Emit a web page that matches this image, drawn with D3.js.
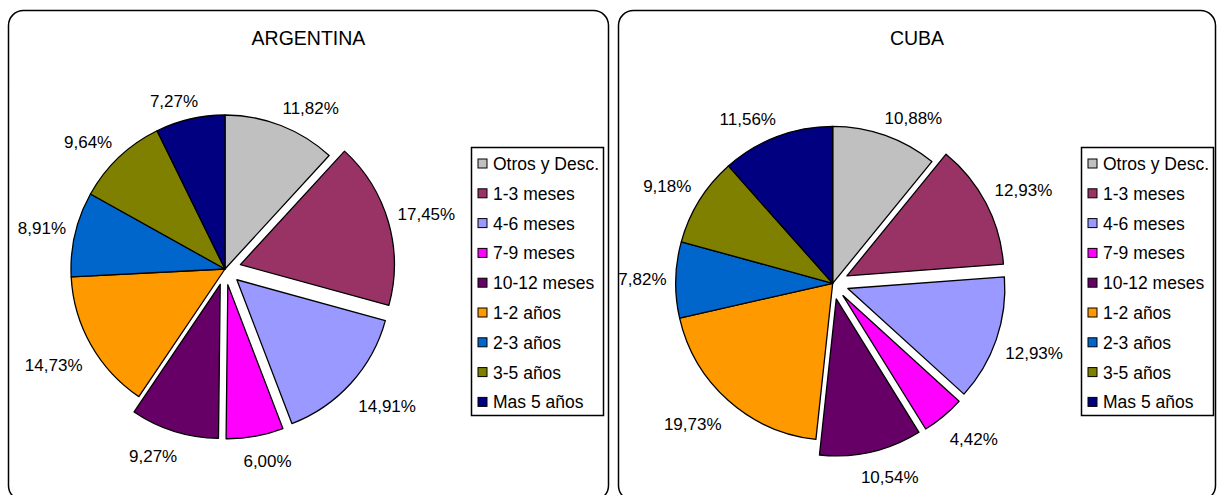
<!DOCTYPE html>
<html>
<head>
<meta charset="utf-8">
<script src="https://cdn.jsdelivr.net/npm/d3@7"></script>
<style>
  body { margin: 0; background: #fff; }
  text { font-family: Arial, "Liberation Sans", sans-serif; fill: #000; }
</style>
</head>
<body>
<div id="chart"></div>
<script>
const categories = [
  "Otros y Desc.", "1-3 meses", "4-6 meses", "7-9 meses", "10-12 meses",
  "1-2 años", "2-3 años", "3-5 años", "Mas 5 años",
];
const argentinaValues = [11.82, 17.45, 14.91, 6.0, 9.27, 14.73, 8.91, 9.64, 7.27];
const cubaValues = [10.88, 12.93, 12.93, 4.42, 10.54, 19.73, 7.82, 9.18, 11.56];
const explodedCategories = ["1-3 meses", "4-6 meses", "7-9 meses", "10-12 meses"];
const palette = [
  "#C0C0C0", "#993366", "#9999FF", "#FF00FF", "#660066",
  "#FF9900", "#0066CC", "#808000", "#000080",
];

const width = 1217,
  height = 495;

const svg = d3
  .select("#chart")
  .append("svg")
  .attr("width", width)
  .attr("height", height);

const color = d3.scaleOrdinal().domain(categories).range(palette);
const fmt = (v) => d3.format(".2f")(v).replace(".", ",") + "%";

const panels = [
  { title: "ARGENTINA", values: argentinaValues, x: 8.5, w: 600, cx: 225, cy: 269, r: 154, legendX: 471.5 },
  { title: "CUBA", values: cubaValues, x: 618.5, w: 597, cx: 832.7, cy: 283.3, r: 157, legendX: 1081.5 },
];

const explode = 16;

panels.forEach(function (p) {
  const g = svg.append("g");

  // rounded frame
  g.append("rect")
    .attr("x", p.x)
    .attr("y", 10.5)
    .attr("width", p.w)
    .attr("height", 490)
    .attr("rx", 15)
    .attr("fill", "#fff")
    .attr("stroke", "#000")
    .attr("stroke-width", 1.5);

  g.append("text")
    .attr("x", p.x + p.w / 2)
    .attr("y", 45)
    .attr("text-anchor", "middle")
    .attr("font-size", 19.5)
    .text(p.title);

  const data = categories.map((c, i) => ({ key: c, value: p.values[i] }));
  const pie = d3.pie().sort(null).value((d) => d.value);
  const arcs = pie(data);
  const arc = d3.arc().innerRadius(0).outerRadius(p.r);

  const offset = function (d) {
    const mid = (d.startAngle + d.endAngle) / 2;
    const e = explodedCategories.includes(d.data.key) ? explode : 0;
    return [e * Math.sin(mid), -e * Math.cos(mid)];
  };

  const pieG = g.append("g").attr("transform", "translate(" + p.cx + "," + p.cy + ")");

  pieG
    .selectAll(".slice")
    .data(arcs)
    .enter()
    .append("path")
    .attr("class", "slice")
    .attr("transform", (d) => "translate(" + offset(d) + ")")
    .attr("d", arc)
    .attr("fill", (d) => color(d.data.key))
    .attr("stroke", "#000")
    .attr("stroke-width", 1.3)
    .attr("stroke-linejoin", "round");

  // labels outside the slices
  const R = p.r + 8;
  const clamp = (v) => Math.max(-1, Math.min(1, v));
  pieG
    .selectAll(".lbl")
    .data(arcs)
    .enter()
    .append("text")
    .attr("class", "lbl")
    .attr("font-size", 17)
    .attr("text-anchor", "middle")
    .text((d) => fmt(d.data.value))
    .each(function (d) {
      const mid = (d.startAngle + d.endAngle) / 2;
      const ux = Math.sin(mid),
        uy = -Math.cos(mid);
      const o = offset(d);
      const hw = this.getComputedTextLength() / 2;
      const lx = o[0] + R * ux + hw * 1.05 * clamp(ux * 2.5);
      const ly = o[1] + R * uy + (uy < 0 ? 10 : 17) * clamp(uy * 2);
      d3.select(this).attr("x", lx).attr("y", ly + 6);
    });

  // legend
  const lg = g.append("g").attr("transform", "translate(" + p.legendX + ",147.5)");
  lg.append("rect")
    .attr("width", 132)
    .attr("height", 268)
    .attr("fill", "#fff")
    .attr("stroke", "#000")
    .attr("stroke-width", 1.5);

  const item = lg
    .selectAll(".item")
    .data(categories)
    .enter()
    .append("g")
    .attr("class", "item")
    .attr("transform", (d, i) => "translate(0," + (16 + i * 29.8) + ")");

  item
    .append("rect")
    .attr("x", 6.5)
    .attr("y", -4.5)
    .attr("width", 9)
    .attr("height", 9)
    .attr("fill", (d) => color(d))
    .attr("stroke", "#000")
    .attr("stroke-width", 1);

  item
    .append("text")
    .attr("x", 21.5)
    .attr("y", 6.5)
    .attr("font-size", 17.5)
    .text((d) => d);
});
</script>
</body>
</html>
